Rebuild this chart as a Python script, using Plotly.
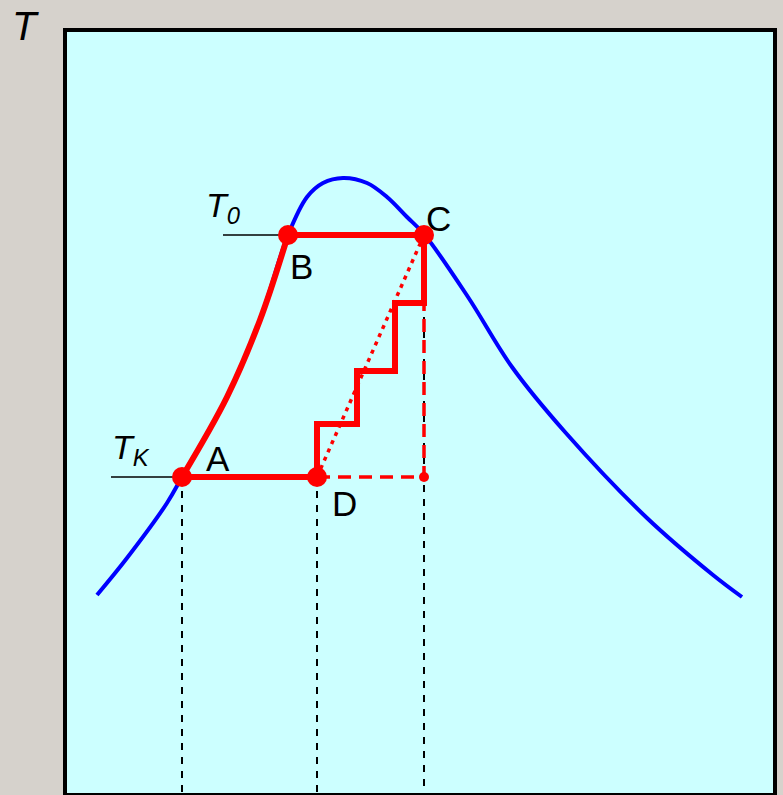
import plotly.graph_objects as go

# Coordinates in chart units (x: abscissa, T: temperature)
curve_x = [32, 62, 102, 117, 162, 195, 223, 242, 258, 278, 302, 322, 342, 359, 403, 447, 500, 582, 648, 677]
curve_T = [200, 237, 292, 318, 398, 475, 560, 598, 612, 617, 612, 598, 578, 561, 498, 428, 363, 277, 220, 198]

ab_x = [117, 162, 195, 223]
ab_T = [318, 398, 475, 560]

pt_names = ["A", "B", "C", "D"]
pt_x = [117, 223, 359, 252]
pt_T = [318, 560, 560, 318]

step_x = [252, 252, 292, 292, 330, 330, 359, 359]
step_T = [318, 371, 371, 424, 424, 492, 492, 560]

T0 = 560
TK = 318
T0_line_x = [158, 223]
TK_line_x = [46, 117]
x_end = 359  # abscissa of C projection
mid_T = 492

fig = go.Figure()

# Black dashed projections
for xv, top in [(pt_x[0], TK), (pt_x[3], TK), (x_end, mid_T)]:
    fig.add_trace(go.Scatter(x=[xv, xv], y=[top, 0], mode="lines",
                             line=dict(color="black", width=2, dash="7px,7px"),
                             hoverinfo="skip", showlegend=False))

# Black level lines
fig.add_trace(go.Scatter(x=T0_line_x, y=[T0, T0], mode="lines",
                         line=dict(color="black", width=1.5), showlegend=False))
fig.add_trace(go.Scatter(x=TK_line_x, y=[TK, TK], mode="lines",
                         line=dict(color="black", width=1.5), showlegend=False))

# Blue curve
fig.add_trace(go.Scatter(x=curve_x, y=curve_T, mode="lines",
                         line=dict(color="#0000ff", width=4, shape="spline", smoothing=1.0),
                         showlegend=False))

# Red dashed D -> corner -> up
fig.add_trace(go.Scatter(x=[pt_x[3], x_end, x_end], y=[TK, TK, mid_T], mode="lines",
                         line=dict(color="#ff0000", width=3.5, dash="13px,8px"),
                         showlegend=False))
# Red dotted D -> C
fig.add_trace(go.Scatter(x=[pt_x[3], pt_x[2]], y=[pt_T[3], pt_T[2]], mode="lines",
                         line=dict(color="#ff0000", width=3.5, dash="4px,5px"),
                         showlegend=False))
# Red AB curve
fig.add_trace(go.Scatter(x=ab_x, y=ab_T, mode="lines",
                         line=dict(color="#ff0000", width=6, shape="spline", smoothing=1.0),
                         showlegend=False))
# Red B-C and A-D
fig.add_trace(go.Scatter(x=[pt_x[1], pt_x[2]], y=[pt_T[1], pt_T[2]], mode="lines",
                         line=dict(color="#ff0000", width=6), showlegend=False))
fig.add_trace(go.Scatter(x=[pt_x[0], pt_x[3]], y=[pt_T[0], pt_T[3]], mode="lines",
                         line=dict(color="#ff0000", width=6), showlegend=False))
# Red steps
fig.add_trace(go.Scatter(x=step_x, y=step_T, mode="lines",
                         line=dict(color="#ff0000", width=6), showlegend=False))
# Points
fig.add_trace(go.Scatter(x=pt_x, y=pt_T, mode="markers",
                         marker=dict(color="#ff0000", size=20), showlegend=False))
fig.add_trace(go.Scatter(x=[x_end], y=[TK], mode="markers",
                         marker=dict(color="#ff0000", size=10), showlegend=False))

font = "Arial, Liberation Sans, sans-serif"
label_off = [(36, 19), (13, -31), (14, 17), (27, -26)]
for n, xv, yv, (dx, dy) in zip(pt_names, pt_x, pt_T, label_off):
    fig.add_annotation(x=xv + dx, y=yv + dy, text=n, showarrow=False,
                       font=dict(family=font, size=35, color="black"))

fig.add_annotation(xref="paper", yref="paper", x=-0.078, y=1.037, text="<i>T</i>",
                   xanchor="left", yanchor="top",
                   showarrow=False, font=dict(family=font, size=40, color="black"))
fig.add_annotation(x=139, y=T0 + 4, text="<i>T<sub>0</sub></i>", showarrow=False,
                   xanchor="left", yanchor="bottom",
                   font=dict(family=font, size=34, color="black"))
fig.add_annotation(x=45, y=TK + 4, text="<i>T<sub>K</sub></i>", showarrow=False,
                   xanchor="left", yanchor="bottom",
                   font=dict(family=font, size=34, color="black"))

fig.add_shape(type="rect", xref="paper", yref="paper", x0=0, x1=1, y0=0, y1=1,
              line=dict(color="black", width=4), layer="above")

fig.update_layout(
    width=783, height=795,
    margin=dict(l=65, r=8, t=30, b=0),
    paper_bgcolor="#d6d2cc",
    plot_bgcolor="#ccffff",
    showlegend=False,
    xaxis=dict(range=[0, 710], visible=False, fixedrange=True),
    yaxis=dict(range=[0, 765], visible=False, fixedrange=True),
)

fig.write_html(
    "out.html",
    config={"displayModeBar": False},
    post_script="document.body.style.margin='0';document.body.style.background='#d6d2cc';document.body.style.overflow='hidden';",
)
